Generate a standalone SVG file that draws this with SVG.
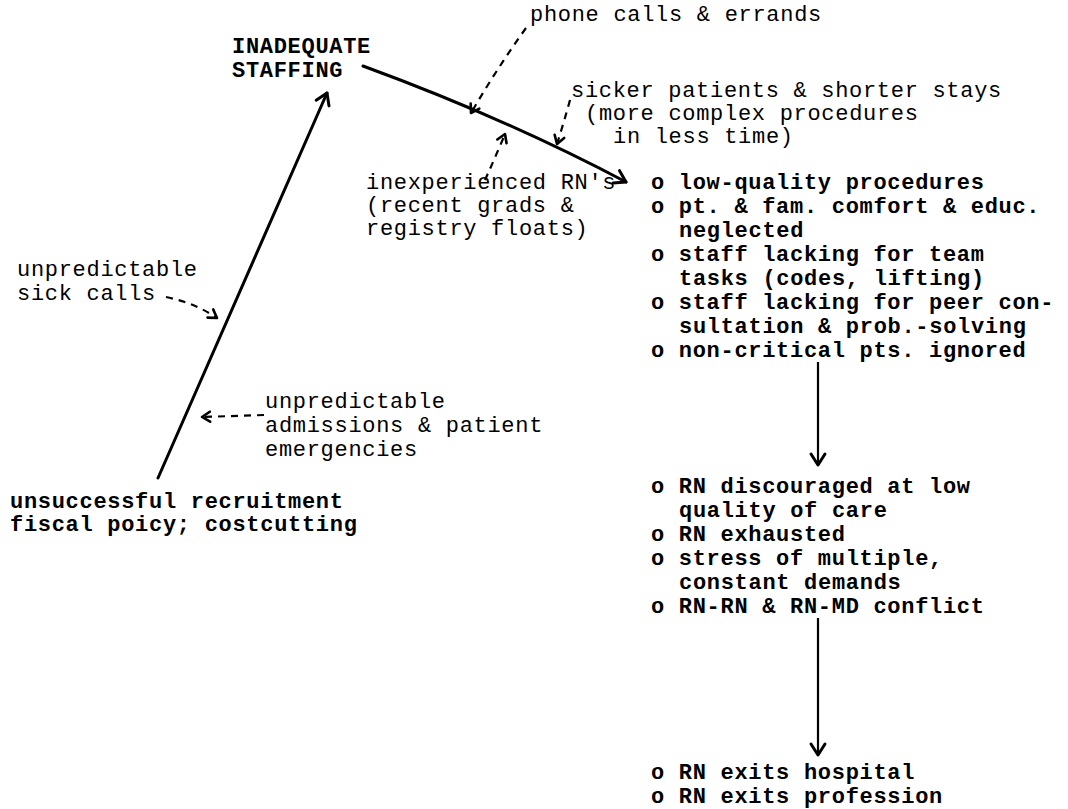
<svg xmlns="http://www.w3.org/2000/svg" width="1068" height="809" viewBox="0 0 1068 809">
<style>
text{font-family:"Liberation Mono","Courier New",monospace;font-size:22px;letter-spacing:0.7px;fill:#000}
.b{font-weight:bold}
.solid{fill:none;stroke:#000;stroke-width:3;stroke-linecap:round}
.thin{fill:none;stroke:#000;stroke-width:2.2}
.dash{fill:none;stroke:#000;stroke-width:2.2;stroke-dasharray:7 6}
</style>
<defs>
<marker id="ah" markerUnits="userSpaceOnUse" markerWidth="24" markerHeight="24" viewBox="-14 -12 16 24" refX="0" refY="0" orient="auto">
<path d="M-11,-7 L0,0 L-11,7" fill="none" stroke="#000" stroke-width="3" stroke-linecap="round" stroke-linejoin="round"/>
</marker>
<marker id="ahs" markerUnits="userSpaceOnUse" markerWidth="20" markerHeight="20" viewBox="-12 -10 14 20" refX="0" refY="0" orient="auto">
<path d="M-8,-5 L0,0 L-8,5" fill="none" stroke="#000" stroke-width="2.6" stroke-linecap="round" stroke-linejoin="round"/>
</marker>
</defs>
<rect width="1068" height="809" fill="#fff"/>
<g id="connectors">
<path class="solid" d="M363,66 Q505,118 626,182" marker-end="url(#ah)"/>
<path class="solid" d="M158,478 L327,93" marker-end="url(#ah)"/>
<path class="thin" d="M818,362 L818,465" marker-end="url(#ah)"/>
<path class="thin" d="M818,618 L818,755" marker-end="url(#ah)"/>
<path class="dash" d="M526,28 Q496,70 471,113" marker-end="url(#ahs)"/>
<path class="dash" d="M570,100 Q564,122 557,144" marker-end="url(#ahs)"/>
<path class="dash" d="M485,180 Q495,158 505,134" marker-end="url(#ahs)"/>
<path class="dash" d="M166,297 Q195,303 217,318" marker-end="url(#ahs)"/>
<path class="dash" d="M264,415 L202,417" marker-end="url(#ahs)"/>
</g>
<g id="inadequate-staffing"><text class="b" x="232" y="53">INADEQUATE</text><text class="b" x="232" y="77">STAFFING</text></g>
<g id="phone-calls"><text x="530" y="21">phone calls &amp; errands</text></g>
<g id="sicker-patients"><text x="571" y="97">sicker patients &amp; shorter stays</text><text x="585" y="120">(more complex procedures</text><text x="613" y="143">in less time)</text></g>
<g id="inexperienced"><text x="366" y="189">inexperienced RN's</text><text x="366" y="212">(recent grads &amp;</text><text x="366" y="235">registry floats)</text></g>
<g id="sick-calls"><text x="17" y="276">unpredictable</text><text x="17" y="300">sick calls</text></g>
<g id="admissions"><text x="265" y="408">unpredictable</text><text x="265" y="432">admissions &amp; patient</text><text x="265" y="456">emergencies</text></g>
<g id="recruitment"><text class="b" x="10" y="508">unsuccessful recruitment</text><text class="b" x="10" y="531">fiscal poicy; costcutting</text></g>
<g id="effects-1">
<text class="b" x="651" y="189">o low-quality procedures</text>
<text class="b" x="651" y="213">o pt. &amp; fam. comfort &amp; educ.</text>
<text class="b" x="679" y="237">neglected</text>
<text class="b" x="651" y="261">o staff lacking for team</text>
<text class="b" x="679" y="285">tasks (codes, lifting)</text>
<text class="b" x="651" y="309">o staff lacking for peer con-</text>
<text class="b" x="679" y="333">sultation &amp; prob.-solving</text>
<text class="b" x="651" y="357">o non-critical pts. ignored</text>
</g>
<g id="effects-2">
<text class="b" x="651" y="493">o RN discouraged at low</text>
<text class="b" x="679" y="517">quality of care</text>
<text class="b" x="651" y="541">o RN exhausted</text>
<text class="b" x="651" y="565">o stress of multiple,</text>
<text class="b" x="679" y="589">constant demands</text>
<text class="b" x="651" y="613">o RN-RN &amp; RN-MD conflict</text>
</g>
<g id="exits">
<text class="b" x="651" y="779">o RN exits hospital</text>
<text class="b" x="651" y="803">o RN exits profession</text>
</g>
</svg>
